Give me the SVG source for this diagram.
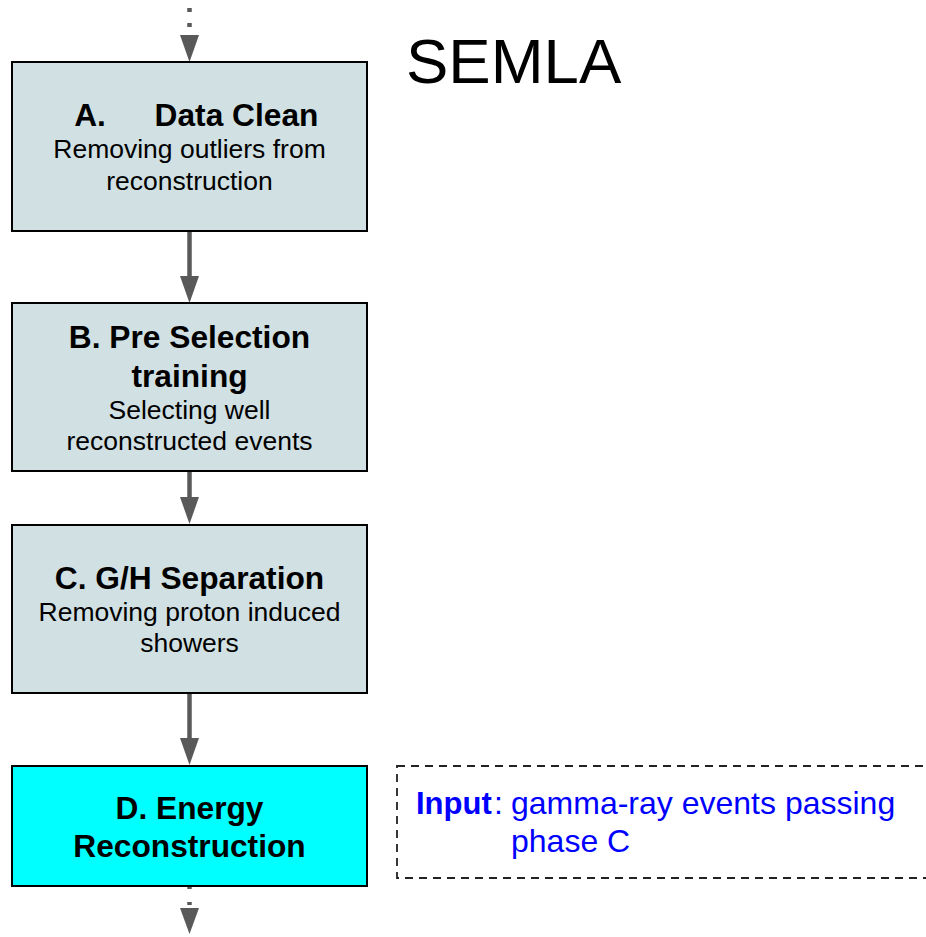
<svg xmlns="http://www.w3.org/2000/svg" width="926" height="937" viewBox="0 0 926 937">
<style>
.box{fill:#d0e0e3;stroke:#000;stroke-width:2}
.boxd{fill:#00ffff;stroke:#000;stroke-width:2}
.t{font-family:"Liberation Sans",Arial,sans-serif;fill:#000;text-anchor:middle}
.b{font-weight:bold;font-size:31.7px}
.r{font-size:26.5px}
.ln{stroke:#595959;stroke-width:4.5;fill:none}
.dot{stroke:#595959;stroke-width:4.5;fill:none;stroke-dasharray:4 11}
.head{fill:#595959}
.blue{font-family:"Liberation Sans",Arial,sans-serif;fill:#0000ff}
</style>
<rect width="926" height="937" fill="#fff"/>
<g id="connectors">
<line class="dot" x1="189.5" y1="8" x2="189.5" y2="35"/>
<polygon class="head" points="180,35 199,35 189.5,62"/>
<line class="ln" x1="189.5" y1="231" x2="189.5" y2="277"/>
<polygon class="head" points="180,276 199,276 189.5,303"/>
<line class="ln" x1="189.5" y1="471" x2="189.5" y2="498"/>
<polygon class="head" points="180,497 199,497 189.5,524"/>
<line class="ln" x1="189.5" y1="693" x2="189.5" y2="739"/>
<polygon class="head" points="180,738 199,738 189.5,765"/>
<line class="dot" x1="189.5" y1="886" x2="189.5" y2="908" style="stroke-dasharray:3 13"/>
<polygon class="head" points="180,908 199,908 189.5,934"/>
</g>
<text id="title" x="406" y="83" font-family="Liberation Sans, Arial, sans-serif" font-size="63.5" fill="#000">SEMLA</text>
<g id="nodeA">
<rect class="box" x="12" y="62" width="355" height="169"/>
<text class="t b" y="126"><tspan x="90">A.</tspan><tspan x="236.5">Data Clean</tspan></text>
<text class="t r" x="189.5" y="158">Removing outliers from</text>
<text class="t r" x="189.5" y="190">reconstruction</text>
</g>
<g id="nodeB">
<rect class="box" x="12" y="303" width="355" height="168"/>
<text class="t b" x="189.5" y="348">B. Pre Selection</text>
<text class="t b" x="189.5" y="387">training</text>
<text class="t r" x="189.5" y="419">Selecting well</text>
<text class="t r" x="189.5" y="450">reconstructed events</text>
</g>
<g id="nodeC">
<rect class="box" x="12" y="525" width="355" height="168"/>
<text class="t b" x="189.5" y="589">C. G/H Separation</text>
<text class="t r" x="189.5" y="621">Removing proton induced</text>
<text class="t r" x="189.5" y="652">showers</text>
</g>
<g id="nodeD">
<rect class="boxd" x="12" y="766" width="355" height="120"/>
<text class="t b" x="189.5" y="819">D. Energy</text>
<text class="t b" x="189.5" y="857">Reconstruction</text>
</g>
<g id="note">
<rect x="397" y="766" width="540" height="112" fill="none" stroke="#222" stroke-width="1.8" stroke-dasharray="8 6"/>
<text class="blue" y="814" font-size="31"><tspan x="416" font-weight="bold">Input</tspan><tspan x="494" font-size="32">:</tspan></text>
<text class="blue" x="511" y="814" font-size="32">gamma-ray events passing</text>
<text class="blue" x="511" y="852" font-size="32">phase C</text>
</g>
</svg>
